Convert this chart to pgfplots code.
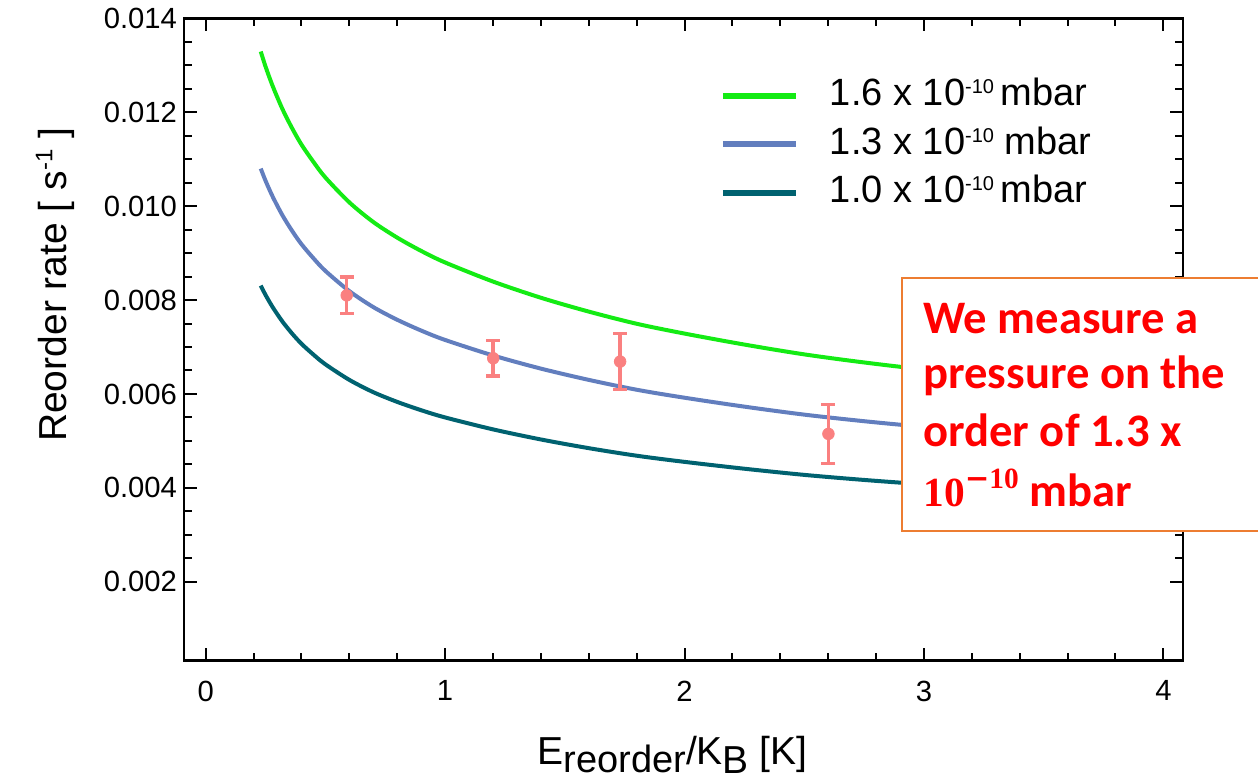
\documentclass[border=0pt]{standalone}
\usepackage{pgfplots}
\pgfplotsset{compat=1.18}
\usepackage{fontspec}
\setmainfont{Liberation Sans}
\newfontfamily\carlito{Carlito}
\newfontfamily\lserif{Liberation Serif}
\newfontfamily\dvsans{DejaVu Sans}
\definecolor{cgreen}{RGB}{20,235,20}
\definecolor{cblue}{RGB}{98,126,190}
\definecolor{cteal}{RGB}{0,98,112}
\definecolor{salmon}{RGB}{250,128,128}
\definecolor{boxorange}{RGB}{237,125,49}
\begin{document}
\begin{tikzpicture}
\useasboundingbox (-92pt,-59.65pt) rectangle (537pt,330.35pt);
\begin{axis}[
  at={(0,0)}, anchor=south west,
  scale only axis, width=499.5pt, height=321.2pt,
  xmin=-0.0906, xmax=4.082, ymin=0.00032, ymax=0.014,
  xtick={0,1,2,3,4},
  ytick={0.002,0.004,0.006,0.008,0.010,0.012,0.014},
  scaled y ticks=false,
  minor x tick num=4, minor y tick num=3,
  tick align=inside, major tick length=6.5pt, minor tick length=4pt,
  axis line style={line width=1.3pt},
  every tick/.style={black, line width=1pt},
  /pgf/number format/assume math mode=true,
  tick label style={font=\fontsize{14.6}{17}\selectfont},
  y tick label style={/pgf/number format/.cd, fixed, fixed zerofill, precision=3},
  x tick label style={yshift=-6.5pt},
  xlabel={E\raisebox{-3.8pt}[\height][0pt]{\fontsize{19}{19}\selectfont reorder}/K\raisebox{-4.2pt}[\height][0pt]{B} [K]},
  ylabel={Reorder rate [ s\raisebox{7pt}{\fontsize{12}{12}\selectfont -1} ]},
  label style={font=\fontsize{19.5}{22}\selectfont},
  xlabel style={at={(axis description cs:0.489,-0.162)}, anchor=base},
  ylabel style={at={(axis description cs:-0.129,0.585)}, anchor=center},
  legend image code/.code={\draw[#1, line width=3pt] (0pt,0pt) -- (36.5pt,0pt); \path[draw=none, fill=none] (0pt,0pt) -- (53.5pt,0pt);},
  legend style={at={(0.5365,0.9066)}, anchor=north west, draw=none, fill=none,
    inner sep=0pt, outer sep=0pt, row sep=6.5pt,
    nodes={inner sep=0pt, text height=13.7pt, text depth=4pt, anchor=west},
    font=\fontsize{19}{22}\selectfont},
  legend cell align=left,
]
\addplot[cgreen, line width=2pt, smooth] table {
x y
0.23 0.013292
0.25 0.012972
0.28 0.012554
0.32 0.012074
0.36 0.011668
0.40 0.011311
0.45 0.010942
0.50 0.010609
0.60 0.010080
0.70 0.009662
0.80 0.009329
0.90 0.009046
1.00 0.008800
1.20 0.008394
1.40 0.008049
1.60 0.007754
1.80 0.007495
2.00 0.007286
2.25 0.007052
2.50 0.006843
2.75 0.006671
3.00 0.006523
3.50 0.006265
4.00 0.006055
};
\addlegendentry{1.6 x 10\raisebox{6pt}{\fontsize{10}{10}\selectfont -10}\,mbar}
\addplot[cblue, line width=2pt, smooth] table {
x y
0.23 0.01080
0.25 0.01054
0.28 0.01020
0.32 0.00981
0.36 0.00948
0.40 0.00919
0.45 0.00889
0.50 0.00862
0.60 0.00819
0.70 0.00785
0.80 0.00758
0.90 0.00735
1.00 0.00715
1.20 0.00682
1.40 0.00654
1.60 0.00630
1.80 0.00609
2.00 0.00592
2.25 0.00573
2.50 0.00556
2.75 0.00542
3.00 0.00530
3.50 0.00509
4.00 0.00492
};
\addlegendentry{1.3 x 10\raisebox{6pt}{\fontsize{10}{10}\selectfont -10} mbar}
\addplot[cteal, line width=2pt, smooth] table {
x y
0.23 0.008308
0.25 0.008108
0.28 0.007846
0.32 0.007546
0.36 0.007292
0.40 0.007069
0.45 0.006838
0.50 0.006631
0.60 0.006300
0.70 0.006038
0.80 0.005831
0.90 0.005654
1.00 0.005500
1.20 0.005246
1.40 0.005031
1.60 0.004846
1.80 0.004685
2.00 0.004554
2.25 0.004408
2.50 0.004277
2.75 0.004169
3.00 0.004077
3.50 0.003915
4.00 0.003785
};
\addlegendentry{1.0 x 10\raisebox{6pt}{\fontsize{10}{10}\selectfont -10}\,mbar}
\addplot[forget plot, only marks, mark=*, mark size=2.9pt, color=salmon,
  error bars/.cd, y dir=both, y explicit,
  error bar style={line width=1.75pt, color=salmon},
  error mark options={rotate=90, mark size=3.5pt, line width=1.75pt, color=salmon}]
  table[x=x, y=y, y error=e] {
x y e
0.589 0.00810 0.00039
1.201 0.00676 0.00038
1.731 0.00669 0.00060
2.601 0.00515 0.00063
};
\end{axis}
\fill[white] (358.85pt,64.85pt) rectangle (545pt,191.35pt);
\draw[boxorange, line width=1pt] (545pt,191.35pt) -- (358.85pt,191.35pt) -- (358.85pt,64.85pt) -- (545pt,64.85pt);
\node[anchor=base west, inner sep=0pt, text=red, font=\carlito\bfseries\fontsize{23.3}{28}\selectfont] at (369.5pt,163.7pt) {We measure a};
\node[anchor=base west, inner sep=0pt, text=red, font=\carlito\bfseries\fontsize{23.3}{28}\selectfont] at (369.5pt,136.2pt) {pressure on the};
\node[anchor=base west, inner sep=0pt, text=red, font=\carlito\bfseries\fontsize{23.3}{28}\selectfont] at (369.5pt,107pt) {order of 1.3 x};
\node[anchor=base west, inner sep=0pt, text=red, font=\carlito\bfseries\fontsize{23.3}{28}\selectfont] at (369.5pt,77pt) {{\lserif\bfseries\fontsize{20.7}{24}\selectfont 10\raisebox{9.3pt}{\fontsize{14.7}{16}\selectfont{\dvsans\bfseries −}10}} mbar};
\end{tikzpicture}
\end{document}
